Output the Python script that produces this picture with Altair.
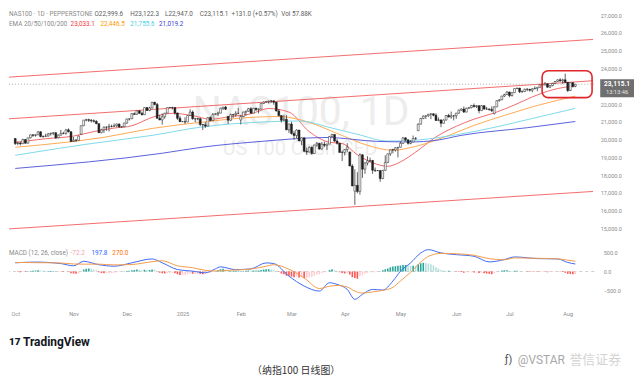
import altair as alt
import numpy as np
import pandas as pd

# ---------------- daily candles NAS100 (1 Oct 2024 - 6 Aug 2025), one row per month ----------------
opens = [
 20060,19780,19810,19770,20010,19800,20100,20270,20240,20270,20440,20180,20180,20200,20320,20360,20390,20100,20250,20350,20350,20550,20450,
 19890,19970,19960,20300,20780,21100,21120,21090,21060,21030,20900,20390,20550,20700,20700,20740,20740,20780,20880,20710,20720,
 20930,21160,21170,21460,21420,21620,21480,21400,21800,21640,21780,22100,21980,21200,21110,21290,21490,21800,21810,21800,21500,21200,
 21010,21010,20990,21350,21550,21170,21170,21180,20850,20830,20760,21240,21070,21420,21450,21490,21760,21830,21300,21090,21400,21410,21480,
 21100,21300,21550,21600,21740,21490,21760,21700,21720,22030,22110,22130,22170,22180,22100,21610,21350,21090,21140,20550,
 20880,20350,20230,20540,19930,20100,19350,19300,19570,19220,19700,19800,19470,19740,19680,19750,20180,20290,19920,19800,19280,
 19280,19440,19300,18520,17100,17430,17090,19150,18340,18690,18810,18830,18280,18260,18260,17810,18270,18720,19200,19430,19420,19540,
 19570,19790,20100,19990,19790,19870,20060,20500,20870,21190,21320,21340,21430,21450,21370,21080,21110,20920,21100,21360,21270,21340,
 21340,21490,21650,21720,21550,21760,21800,21920,21860,21910,21630,21910,21720,21720,21700,21460,21840,22190,22240,22450,22530,
 22680,22480,22640,22870,22900,22690,22700,22830,22830,22780,22860,22880,22940,23080,23070,23140,22950,23040,23160,23270,23360,23310,23360,
 23220,22760,23200,22999.6,
]
highs = [
 20090,19880,19880,20050,20030,20110,20290,20300,20300,20480,20470,20230,20330,20370,20390,20410,20400,20290,20550,20440,20600,20630,20460,
 20150,20040,20230,20790,21100,21170,21180,21160,21140,21090,20920,20610,20740,20740,20890,20840,20910,20900,20900,20760,20950,
 21180,21190,21480,21530,21640,21650,21580,21810,21830,21850,22130,22130,22070,21400,21470,21500,21800,21820,21850,21810,21520,21340,
 21030,21260,21370,21710,21640,21220,21220,21200,20870,20990,21260,21310,21500,21490,21570,21800,21840,21900,21330,21470,21450,21600,21790,
 21380,21570,21630,21780,21830,21790,21790,21740,22040,22140,22150,22190,22230,22190,22120,21720,21380,21400,21380,20890,
 21000,20500,20580,20550,20120,20110,19560,19630,19620,19720,19870,19810,19870,19890,19770,20190,20330,20300,20030,19820,19380,
 19480,19800,19330,18620,18330,18170,19230,19180,18730,19070,18990,18860,18430,18290,18270,18300,19120,19220,19450,19480,19580,19580,
 19880,20150,20120,19990,19970,20230,20150,20910,21220,21360,21370,21450,21470,21470,21480,21250,21140,21140,21380,21450,21580,21390,
 21500,21690,21760,21860,21800,21840,21950,22030,21940,21920,21940,21920,21840,21760,21870,21870,22210,22280,22460,22580,22720,
 22690,22650,22880,22910,22910,22770,22870,22890,22850,22880,23000,22960,23100,23150,23240,23160,23060,23190,23290,23390,23450,23430,23710,
 23240,23210,23240,23122.3,
]
lows = [
 19700,19690,19670,19760,19770,19790,20070,20150,20170,20260,20130,20100,20170,20180,20230,20250,20040,20080,20240,20300,20280,20400,19880,
 19880,19860,19950,20280,20760,21030,20990,20960,20960,20870,20370,20360,20380,20500,20460,20690,20720,20720,20680,20690,20700,
 20900,21070,21160,21400,21410,21440,21360,21390,21620,21600,21760,21930,21180,21090,20840,21170,21480,21780,21690,21400,21110,20990,
 20990,20880,20980,21340,21120,20980,21100,20760,20540,20650,20750,21030,21060,21400,21330,21480,21660,21660,20880,21040,21220,21300,21440,
 20850,21260,21340,21560,21470,21480,21600,21470,21700,22000,22090,22030,22060,21960,21580,21300,20960,21040,20530,20380,
 20280,19990,20090,19920,19680,19290,19150,19280,19150,19200,19600,19440,19450,19580,19420,19740,20140,19870,19720,19270,18800,
 19110,19290,18500,17380,16330,16980,16900,17850,18080,18550,18720,18080,18180,18230,17630,17780,18260,18680,19090,19230,19330,19000,
 19560,19780,19900,19720,19740,19860,19990,20490,20850,21150,21160,21280,21150,21310,21050,21040,20700,20910,21080,21250,21180,21080,
 21170,21450,21640,21500,21540,21740,21760,21800,21780,21480,21620,21680,21670,21620,21560,21420,21830,22140,22220,22400,22520,
 22380,22420,22630,22840,22620,22640,22690,22720,22700,22660,22840,22720,22920,23040,23060,22920,22900,23000,23130,23250,23250,23130,23170,
 22680,22740,22930,22947.0,
]
closes = [
 19780,19810,19770,20010,19800,20100,20270,20240,20270,20440,20180,20180,20200,20320,20360,20390,20100,20250,20350,20350,20550,20450,19890,
 19970,19960,20200,20780,21100,21120,21090,21060,21030,20900,20390,20550,20700,20700,20740,20740,20780,20880,20710,20720,20930,
 21160,21170,21460,21420,21620,21480,21400,21800,21640,21780,22100,21980,21200,21110,21290,21490,21800,21810,21800,21500,21200,21010,
 21010,20990,21350,21550,21170,21170,21180,20850,20830,20760,21240,21070,21420,21450,21490,21760,21830,21710,21090,21400,21410,21480,21480,
 21300,21550,21600,21740,21490,21760,21700,21720,22030,22110,22130,22170,22180,22100,21610,21350,21090,21140,20550,20880,
 20350,20230,20540,19930,20100,19350,19300,19570,19220,19700,19800,19470,19740,19680,19750,20180,20290,19920,19800,19280,19280,
 19440,19580,18520,17400,17430,17090,19150,18340,18690,18810,18830,18280,18260,18260,17810,18270,18720,19200,19430,19420,19540,19570,
 19790,20100,19990,19790,19870,20060,20060,20870,21190,21320,21340,21430,21450,21370,21080,21110,20920,21100,21360,21270,21340,21340,
 21490,21650,21720,21550,21760,21800,21920,21860,21910,21630,21910,21720,21720,21700,21630,21840,22190,22240,22450,22530,22680,
 22480,22640,22870,22900,22690,22700,22830,22830,22780,22860,22880,22940,23080,23070,23140,22950,23040,23160,23270,23360,23310,23360,23220,
 22760,23200,22984.1,23115.1,
]

# ---------------- EMA readings (bar index, value) ----------------
ema20_idx = [0, 12, 23, 31, 39, 46, 54, 62, 70, 77, 85, 93, 100, 108, 116, 124, 129, 135, 141, 147, 152, 158, 166, 174, 181, 189, 197, 204, 212, 221]
ema20_val = [19850, 20050, 20200, 20450, 20650, 20780, 21250, 21480, 21350, 21150, 21300, 21450, 21750, 21550, 20450, 19850, 19780, 19150, 18700, 18500, 18750, 19300, 20150, 20750, 21150, 21500, 21950, 22400, 22800, 23033]
ema50_idx = [0, 20, 35, 54, 73, 93, 104, 116, 127, 139, 149, 158, 170, 181, 193, 206, 221]
ema50_val = [19570, 19850, 20130, 20630, 20970, 21250, 21300, 20970, 20350, 19680, 19400, 19620, 20180, 20800, 21360, 21920, 22447]
ema100_idx = [0, 27, 54, 73, 99, 112, 125, 135, 147, 156, 170, 189, 204, 221]
ema100_val = [19120, 19720, 20240, 20700, 21000, 21050, 20650, 20300, 19920, 19950, 20180, 20690, 21190, 21756]
ema200_idx = [0, 58, 74, 97, 123, 143, 156, 166, 176, 202, 221]
ema200_val = [18380, 19235, 19580, 19900, 20120, 19900, 19870, 19960, 20240, 20670, 21019]

# ---------------- red channel lines (bar index, value) ----------------
channel_idx = [-4, 228]
channel_top = [23499, 25635]
channel_mid = [21158, 23311]
channel_bottom = [14968, 17087]

# highlight box (bar index range, value range)
box_idx = [207.9, 227.6]
box_val = [23872, 22363]

last_close = 23115.1

# ---------------- MACD ----------------
macd_idx = [0, 8, 18, 23, 27, 33, 39, 46, 54, 58, 64, 70, 75, 79, 81, 87, 93, 99, 102, 108, 114, 120, 124, 127, 131, 134, 137, 141, 145, 149, 152, 156, 160, 163, 168, 174, 181, 187, 193, 197, 206, 214, 218, 221]
macd_val = [230, 250, 210, 150, 270, 180, 140, 230, 333, 230, 53, 10, -35, 70, 123, 50, 70, 228, 210, -123, -386, -518, -298, -342, -474, -737, -605, -474, -491, -254, 8, 228, 491, 579, 491, 447, 404, 254, 316, 386, 342, 333, 240, 198]
signal_val = [240, 235, 225, 200, 195, 195, 175, 185, 260, 285, 150, 100, 30, 15, 20, 40, 65, 140, 180, 60, -170, -450, -390, -370, -410, -520, -570, -540, -500, -420, -250, -20, 250, 400, 480, 470, 430, 340, 310, 360, 350, 335, 300, 270]
hist = [
 -10,-15,-20,-10,-15,5,15,20,25,35,25,20,15,15,15,15,0,-5,-5,-10,0,-5,-45,
 -55,-60,-50,0,50,75,80,70,55,35,-20,-40,-45,-45,-45,-40,-35,-25,-15,-10,5,
 15,20,35,40,50,45,35,45,40,40,55,50,5,-30,-45,-50,-45,-40,-35,-45,-70,-90,
 -90,-85,-70,-50,-60,-60,-55,-65,-70,-60,-35,-30,-10,5,35,60,70,55,10,15,20,20,20,
 10,15,20,25,20,25,25,25,40,55,60,60,55,45,20,-15,-50,-70,-110,-115,
 -130,-150,-140,-160,-150,-180,-175,-150,-150,-115,-80,-70,-40,-20,0,40,60,30,15,-20,-40,
 -50,-40,-80,-150,-170,-190,-120,-100,-60,-40,-20,-20,-20,-10,5,30,60,80,110,130,140,150,
 160,175,175,160,150,150,140,190,220,230,225,210,190,160,110,80,40,25,20,20,10,5,
 -5,-10,-15,-30,-20,-20,-20,-25,-25,-40,-35,-45,-55,-60,-70,-55,-20,5,25,30,35,
 20,15,20,20,10,5,0,-5,-10,-10,-10,-15,-10,-10,-5,-20,-15,-10,-5,0,-5,-10,-30,
 -60,-65,-75,-72.2,
]

month_labels = ["Oct", "Nov", "Dec", "2025", "Feb", "Mar", "Apr", "May", "Jun", "Jul", "Aug"]
price_ticks = [15000, 16000, 17000, 18000, 19000, 20000, 21000, 22000, 24000, 25000, 26000, 27000]
macd_ticks = [-500, 0, 500]

# ---------------- tables ----------------
n = min(len(opens), len(highs), len(lows), len(closes))
dates = pd.bdate_range("2024-10-01", periods=n)
candles = pd.DataFrame({"idx": np.arange(n), "open": opens[:n], "high": highs[:n],
                        "low": lows[:n], "close": closes[:n]})
candles["dir"] = np.where(candles["close"] >= candles["open"], "up", "down")

month_idx = [i for i in range(n) if i == 0 or dates[i].month != dates[i - 1].month]
label_expr = "".join(f"datum.value == {i} ? '{m}' : " for i, m in zip(month_idx, month_labels)) + "''"

ema = pd.concat([
    pd.DataFrame({"name": nm, "idx": ix, "val": vv})
    for nm, ix, vv in [("EMA20", ema20_idx, ema20_val), ("EMA50", ema50_idx, ema50_val),
                       ("EMA100", ema100_idx, ema100_val), ("EMA200", ema200_idx, ema200_val)]
])
channels = pd.concat([
    pd.DataFrame({"line": nm, "idx": channel_idx, "val": vv})
    for nm, vv in [("top", channel_top), ("mid", channel_mid), ("bottom", channel_bottom)]
])
box = pd.DataFrame({"x1": [box_idx[0]], "x2": [box_idx[1]], "v1": [box_val[0]], "v2": [box_val[1]]})
price = pd.DataFrame({"p": [last_close]})

macd_df = pd.concat([
    pd.DataFrame({"series": "macd", "idx": macd_idx, "val": macd_val}),
    pd.DataFrame({"series": "signal", "idx": macd_idx, "val": signal_val}),
])
hn = min(len(hist), n)
hdf = pd.DataFrame({"idx": np.arange(hn), "hist": hist[:hn]})
prev = hdf["hist"].shift(1).fillna(hdf["hist"].iloc[0])
h = hdf["hist"]
hdf["cat"] = np.select([(h >= 0) & (h >= prev), (h >= 0) & (h < prev), (h < 0) & (h < prev)],
                       ["pu", "pd", "nd"], "nu")
hdf["zero"] = 0.0
zero = pd.DataFrame({"z": [0.0]})

# ---------------- scales / axes ----------------
FONT = "Roboto"
AX_COL = "#8c8c8c"
xs = alt.Scale(domain=[-0.5, 226.5], nice=False, zero=False)
ys = alt.Scale(domain=[14374, 27335], nice=False, zero=False)
ms = alt.Scale(domain=[-868, 816], nice=False, zero=False)
yax = alt.Axis(orient="right", values=price_ticks, format=",.1f", grid=False, domain=False,
               ticks=False, labelPadding=6, labelAlign="left", labelFontSize=5.6,
               labelColor=AX_COL, labelFont=FONT, title=None)
max_ = alt.Axis(orient="right", values=macd_ticks, format=".1f", grid=False, domain=False,
                ticks=False, labelPadding=9, labelAlign="left", labelFontSize=5.6,
                labelColor=AX_COL, labelFont=FONT, title=None)
xax = alt.Axis(values=month_idx, labelExpr=label_expr, grid=False, domain=False, ticks=False,
               labelPadding=7, labelFontSize=5.6, labelColor=AX_COL, labelFont=FONT,
               labelFlush=2, title=None)

one = pd.DataFrame({"k": [0]})


def label(x, y, s, color="#888888", size=6.4, weight="normal", align="left", font=FONT):
    return alt.Chart(one).mark_text(align=align, baseline="middle", color=color, fontSize=size,
                                    fontWeight=weight, font=font).encode(
        x=alt.value(x), y=alt.value(y), text=alt.value(s))


X = lambda f: alt.X(f, scale=xs, axis=None, title=None)
Y = lambda f: alt.Y(f, scale=ys, axis=yax, title=None)

# ---------------- main pane ----------------
wm1 = label(294, 104.5, "NAS100, 1D", color="#ededed", size=41, align="center")
wm2 = label(293, 141, "US 100 Cash CFD", color="#ededed", size=20, align="center")

chan = alt.Chart(channels).mark_line(color="#ef5350", strokeWidth=1, opacity=0.85, clip=True).encode(
    x=X("idx:Q"), y=Y("val:Q"), detail="line:N")
pline = alt.Chart(price).mark_rule(color="#9a9a9a", strokeDash=[1, 2], strokeWidth=0.8, clip=True).encode(
    y=Y("p:Q"))
emas = alt.Chart(ema).mark_line(strokeWidth=1, interpolate="monotone", opacity=0.9, clip=True).encode(
    x=X("idx:Q"), y=Y("val:Q"),
    stroke=alt.Stroke("name:N", legend=None,
                      scale=alt.Scale(domain=["EMA20", "EMA50", "EMA100", "EMA200"],
                                      range=["#f05a5a", "#ffa040", "#6fd6e8", "#4a4fd8"])))
wick = alt.Chart(candles).mark_rule(color="#1f1f1f", strokeWidth=0.7, clip=True).encode(
    x=X("idx:Q"), y=Y("low:Q"), y2="high:Q")
body = alt.Chart(candles).mark_bar(width=1.9, stroke="#1f1f1f", strokeWidth=0.5, clip=True).encode(
    x=X("idx:Q"), y=Y("open:Q"), y2="close:Q",
    fill=alt.Fill("dir:N", legend=None,
                  scale=alt.Scale(domain=["up", "down"], range=["#ffffff", "#1f1f1f"])))
hbox = alt.Chart(box).mark_rect(fill="#ffffff", fillOpacity=0, stroke="#e0262b", strokeWidth=1.6,
                                cornerRadius=6).encode(
    x=X("x1:Q"), x2="x2:Q", y=Y("v1:Q"), y2="v2:Q")
tag = alt.Chart(price).mark_rect(color="#6f6f6f", yOffset=-5, y2Offset=13).encode(
    x=alt.value(595), x2=alt.value(629), y=Y("p:Q"), y2="p:Q")
tag_t1 = alt.Chart(price).mark_text(color="#ffffff", fontSize=6.6, fontWeight="bold", font=FONT,
                                     align="center", baseline="middle").encode(
    x=alt.value(612), y=Y("p:Q"), text=alt.value("23,115.1"))
tag_t2 = alt.Chart(price).mark_text(color="#e8e8e8", fontSize=5.8, font=FONT, dy=8,
                                     align="center", baseline="middle").encode(
    x=alt.value(612), y=Y("p:Q"), text=alt.value("13:13:46"))

head = [
    label(0, 4.5, "NAS100 · 1D · PEPPERSTONE", color="#8a8a8a"),
    label(86, 4.5, "O22,999.6", color="#5e5e5e"),
    label(122, 4.5, "H23,122.3", color="#5e5e5e"),
    label(157, 4.5, "L22,947.0", color="#5e5e5e"),
    label(192, 4.5, "C23,115.1", color="#5e5e5e"),
    label(224, 4.5, "+131.0 (+0.57%)", color="#5e5e5e"),
    label(274, 4.5, "Vol 57.88K", color="#5e5e5e"),
    label(0, 14.5, "EMA 20/50/100/200", color="#8a8a8a"),
    label(62, 14.5, "23,033.1", color="#f23645"),
    label(92, 14.5, "22,446.5", color="#ff9800"),
    label(122, 14.5, "21,755.6", color="#4dd0e1"),
    label(151, 14.5, "21,019.2", color="#3a3fd1"),
]

main = alt.layer(wm1, wm2, chan, pline, emas, wick, body, hbox, tag, tag_t1, tag_t2, *head).properties(
    width=589, height=232)

# ---------------- MACD pane ----------------
XM = lambda f: alt.X(f, scale=xs, axis=xax, title=None)
YM = lambda f: alt.Y(f, scale=ms, axis=max_, title=None)

zl = alt.Chart(zero).mark_rule(color="#c4c4c4", strokeDash=[3, 3], strokeWidth=0.8).encode(y=YM("z:Q"))
hbars = alt.Chart(hdf).mark_bar(width=1.6, clip=True).encode(
    x=XM("idx:Q"), y=YM("hist:Q"), y2="zero:Q",
    fill=alt.Fill("cat:N", legend=None,
                  scale=alt.Scale(domain=["pu", "pd", "nd", "nu"],
                                  range=["#26a69a", "#b2dfdb", "#ff5252", "#ffcdd2"])))
mlines = alt.Chart(macd_df).mark_line(strokeWidth=1, interpolate="monotone", clip=True).encode(
    x=XM("idx:Q"), y=YM("val:Q"),
    stroke=alt.Stroke("series:N", legend=None,
                      scale=alt.Scale(domain=["macd", "signal"], range=["#3d6bf5", "#f59a4a"])),
    order=alt.Order("idx:Q"))

mhead = [
    label(0, 12, "MACD (12, 26, close)", color="#8a8a8a"),
    label(62, 12, "-72.2", color="#f4a3ab"),
    label(83, 12, "197.8", color="#2962ff"),
    label(104, 12, "270.0", color="#ff6d00"),
]
bottom = [
    label(0, 102, "17", color="#131722", size=10, weight=900),
    label(14, 102, "TradingView", color="#131722", size=12, weight="bold"),
    label(499, 120, "ƒ)", color="#555555", size=11),
    label(512, 120, "@VSTAR", color="#a8a8a8", size=12),
    label(564, 120, "誉信证券", color="#d4d4d4", size=13, font="Noto Sans CJK SC"),
    label(289, 131, "（纳指100 日线图）", color="#333333", size=10, align="center",
          font="Noto Sans CJK SC"),
]

macd = alt.layer(zl, hbars, mlines, *mhead, *bottom).properties(width=589, height=64)

chart = alt.vconcat(main, macd, spacing=1).resolve_scale(
    fill="independent", stroke="independent", color="independent"
).properties(padding=0, background="#ffffff").configure_view(stroke=None)

chart.save("out.html", embed_options={"renderer": "svg", "actions": False})
